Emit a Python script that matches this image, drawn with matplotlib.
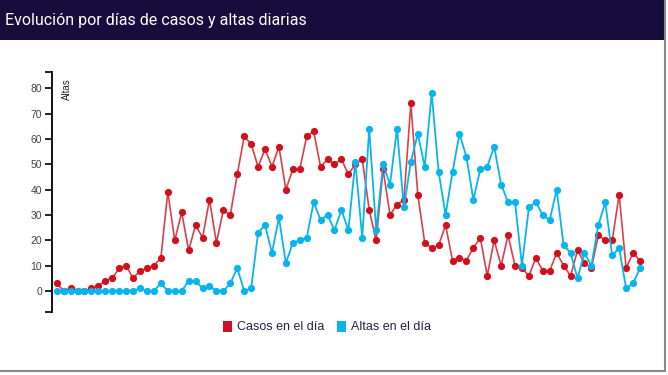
import numpy as np
import matplotlib
matplotlib.use('Agg')
import matplotlib.pyplot as plt
from matplotlib.patches import Rectangle, Patch

# daily values
casos = [3, 0, 1, 0, 0, 1, 2, 4, 5, 9, 10, 5, 8, 9, 10, 13, 39, 20, 31, 16,
         26, 21, 36, 19, 32, 30, 46, 61, 58, 49, 56, 49, 57, 40, 48, 48, 61, 63, 49, 52,
         50, 52, 46, 50, 52, 32, 20, 48, 30, 34, 36, 74, 38, 19, 17, 18, 26, 12, 13, 12,
         17, 21, 6, 20, 10, 22, 10, 9, 6, 13, 8, 8, 15, 10, 6, 16, 11, 9, 22, 20,
         20, 38, 9, 15, 12]
altas = [0, 0, 0, 0, 0, 0, 0, 0, 0, 0, 0, 0, 1, 0, 0, 3, 0, 0, 0, 4,
         4, 1, 2, 0, 0, 3, 9, 0, 1, 23, 26, 15, 29, 11, 19, 20, 21, 35, 28, 30,
         24, 32, 24, 51, 21, 64, 24, 50, 42, 64, 33, 51, 62, 49, 78, 47, 30, 47, 62, 53,
         36, 48, 49, 57, 42, 35, 35, 10, 33, 35, 30, 28, 40, 18, 15, 5, 15, 10, 26, 35,
         14, 17, 1, 3, 9]
yticks = [0, 10, 20, 30, 40, 50, 60, 70, 80]

titulo = 'Evolución por días de casos y altas diarias'
red = '#d0101c'
blue = '#08b4ee'

W, H = 668, 375
fig = plt.figure(figsize=(W / 100, H / 100), dpi=100)
fig.patch.set_facecolor('white')

# title bar and card border
fig.patches.append(Rectangle((0, 1 - 40 / H), 664 / W, 40 / H, transform=fig.transFigure,
                             facecolor='#170c3c', edgecolor='none', zorder=0))
fig.add_artist(plt.Line2D([664.5 / W, 664.5 / W], [1 - 371 / H, 1], transform=fig.transFigure,
                          color='#8a8a8e', lw=1.5))
fig.add_artist(plt.Line2D([0, 664.5 / W], [1 - 371 / H, 1 - 371 / H], transform=fig.transFigure,
                          color='#8a8a8e', lw=1.5))
fig.text(5 / W, 1 - 21 / H, titulo, color='white', fontsize=11.5, family='Roboto',
         va='center', ha='left')

# plot area
ax = fig.add_axes([52 / W, (H - 312) / H, (650 - 52) / W, 240 / H])
x = np.arange(len(casos))
ax.plot(x, casos, '-', color=red, lw=1.2, alpha=0.8)
ax.plot(x, casos, 'o', color=red, ms=5.2, mew=0)
ax.plot(x, altas, '-', color=blue, lw=1.3)
ax.plot(x, altas, 'o', color=blue, ms=5.2, mew=0)

ylo, yhi = -8.3, 86.4
ax.set_ylim(ylo, yhi)
ax.set_xlim(-0.68, 85.44)
ax.set_yticks(yticks)
ax.set_yticks([ylo, yhi], minor=True)
ax.tick_params(axis='y', which='both', length=5, width=1.3, colors='#111111',
               labelsize=7.5, labelcolor='#444444', pad=2)
ax.set_xticks([])
for s in ['top', 'right', 'bottom']:
    ax.spines[s].set_visible(False)
ax.spines['left'].set_linewidth(1.3)
ax.set_facecolor('none')
for lab in ax.get_yticklabels():
    lab.set_family('Liberation Sans')

ax.text(0.017, 0.975, 'Altas', transform=ax.transAxes, rotation=90, ha='left', va='top',
        fontsize=7, family='Liberation Sans', color='#222222')

handles = [Patch(facecolor=red, edgecolor='none', label='Casos en el día'),
           Patch(facecolor=blue, edgecolor='none', label='Altas en el día')]
fig.legend(handles=handles, loc='center', bbox_to_anchor=(327 / W, 1 - 327 / H), ncol=2,
           frameon=False, prop={'family': 'Liberation Sans', 'size': 9},
           handlelength=0.75, handleheight=1.0, handletextpad=0.4, columnspacing=1.0,
           labelcolor='#222244')

fig.savefig('out.png', dpi=100)
